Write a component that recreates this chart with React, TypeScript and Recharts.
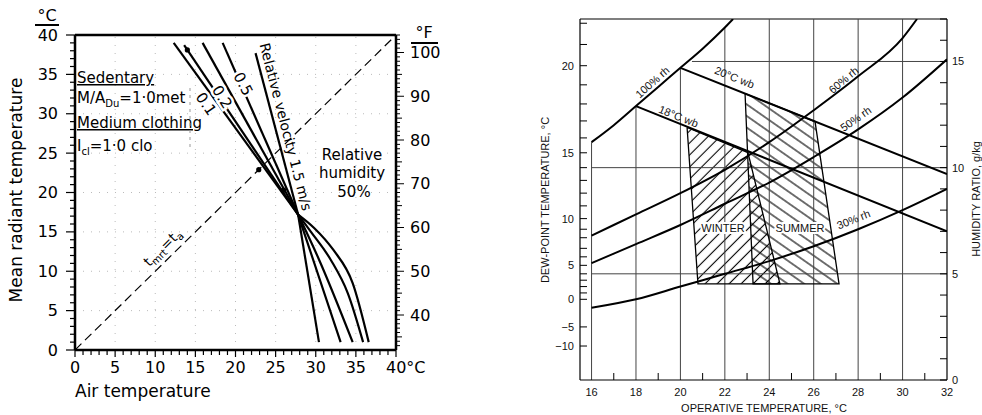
import React from 'react';
import { ComposedChart, Line, Area, XAxis, YAxis, ReferenceLine, ReferenceDot } from 'recharts';

const range = (a: number, b: number) => Array.from({ length: b - a + 1 }, (_, i) => a + i);

// ---------- left chart: air temperature vs mean radiant temperature (°C) ----------
const cTicks = range(0, 40);
const fTicks = range(33, 104);
const gridC = [5, 10, 15, 20, 25, 30, 35];

// relative velocity lines (ta = air temp, tr = mean radiant temp)
// upper parts are straight, lower parts fan out below the crossing point
const velUpper = [
  [{ ta: 12.3, tr: 39.0 }, { ta: 27.8, tr: 17.2 }],
  [{ ta: 13.6, tr: 38.7 }, { ta: 27.8, tr: 17.2 }],
  [{ ta: 15.9, tr: 39.0 }, { ta: 27.8, tr: 17.2 }],
  [{ ta: 18.4, tr: 39.0 }, { ta: 27.8, tr: 17.2 }],
  [{ ta: 22.5, tr: 37.7 }, { ta: 27.8, tr: 17.2 }],
];
const velLower = [
  [{ ta: 27.8, tr: 17.2 }, { ta: 29.8, tr: 15.5 }, { ta: 32.2, tr: 12.7 }, { ta: 34.6, tr: 8.5 }, { ta: 36.6, tr: 1.0 }],
  [{ ta: 27.8, tr: 17.2 }, { ta: 29.4, tr: 15.0 }, { ta: 31.9, tr: 11.4 }, { ta: 34.0, tr: 7.2 }, { ta: 35.9, tr: 1.0 }],
  [{ ta: 27.8, tr: 17.2 }, { ta: 30.4, tr: 11.5 }, { ta: 34.6, tr: 1.0 }],
  [{ ta: 27.8, tr: 17.2 }, { ta: 33.1, tr: 1.0 }],
  [{ ta: 27.8, tr: 17.2 }, { ta: 30.4, tr: 1.0 }],
];
const equalLine = [{ ta: 0, tr: 0 }, { ta: 40, tr: 40 }];
const markers = [{ ta: 14.0, tr: 38.1 }, { ta: 22.9, tr: 22.9 }, { ta: 26.0, tr: 20.3 }];

// ---------- right chart: operative temp vs humidity ratio ----------
const tTicks = range(16, 32);
const wTicks = range(0, 17);
const dpValues = [-10, -5, 0, 1, 2, 3, 4, 5, 6, 7, 8, 9, 10, 11, 12, 13, 14, 15, 16, 17, 18, 19, 20, 21, 22];
const dpW = [1.6, 2.5, 3.8, 4.1, 4.4, 4.7, 5.0, 5.4, 5.8, 6.2, 6.7, 7.1, 7.6, 8.2, 8.8, 9.4, 10.0, 10.7, 11.4, 12.2, 13.0, 13.9, 14.8, 15.8, 16.8];
const dpMajor = [-10, -5, 0, 5, 10, 15, 20];

const rh100 = [
  { t: 16, w: 11.2 }, { t: 17, w: 12.0 }, { t: 18, w: 12.9 }, { t: 19, w: 13.8 },
  { t: 20, w: 14.7 }, { t: 21, w: 15.6 }, { t: 22, w: 16.6 }, { t: 22.37, w: 17.0 },
];
const rh60 = [
  { t: 16, w: 6.8 }, { t: 18, w: 7.8 }, { t: 20, w: 8.8 }, { t: 22, w: 9.9 }, { t: 24, w: 11.2 },
  { t: 26, w: 12.7 }, { t: 28, w: 14.3 }, { t: 30, w: 16.1 }, { t: 30.65, w: 17.0 },
];
const rh50 = [
  { t: 16, w: 5.5 }, { t: 18, w: 6.4 }, { t: 20, w: 7.3 }, { t: 22, w: 8.3 }, { t: 24, w: 9.3 },
  { t: 26, w: 10.5 }, { t: 28, w: 11.8 }, { t: 30, w: 13.3 }, { t: 32, w: 15.1 },
];
const rh30 = [
  { t: 16, w: 3.4 }, { t: 18, w: 3.8 }, { t: 20, w: 4.4 }, { t: 22, w: 5.0 }, { t: 24, w: 5.6 },
  { t: 26, w: 6.3 }, { t: 28, w: 7.1 }, { t: 30, w: 8.0 }, { t: 32, w: 9.0 },
];
const wb18 = [{ t: 18, w: 12.9 }, { t: 32, w: 7.0 }];
const wb20 = [{ t: 20, w: 14.7 }, { t: 32, w: 9.7 }];

// comfort zones: outline (polygon order) and fill band (low/high per x)
const winterEdge = [
  { t: 20.3, w: 11.89 }, { t: 23.04, w: 10.71 }, { t: 24.48, w: 4.53 }, { t: 20.79, w: 4.53 }, { t: 20.3, w: 11.89 },
];
const winterBand = [
  { t: 20.3, r: [11.89, 11.89] }, { t: 20.79, r: [4.53, 11.68] }, { t: 23.04, r: [4.53, 10.71] }, { t: 24.48, r: [4.53, 4.53] },
];
const summerEdge = [
  { t: 22.91, w: 13.49 }, { t: 26.06, w: 12.17 }, { t: 27.14, w: 4.53 }, { t: 23.27, w: 4.53 }, { t: 22.91, w: 13.49 },
];
const summerBand = [
  { t: 22.91, r: [13.49, 13.49] }, { t: 23.27, r: [4.53, 13.34] }, { t: 26.06, r: [4.53, 12.17] }, { t: 27.14, r: [4.53, 4.53] },
];

const gridV = [
  { t: 16, top: 11.2 }, { t: 18, top: 12.9 }, { t: 20, top: 14.7 }, { t: 22, top: 16.6 },
  { t: 24, top: 17 }, { t: 26, top: 17 }, { t: 28, top: 17 }, { t: 30, top: 17 },
];
const gridH = [{ w: 5, from: 16 }, { w: 10, from: 16 }, { w: 15, from: 20.52 }];

const L_FONT = '"DejaVu Sans", sans-serif';
const R_FONT = '"Liberation Sans", Arial, sans-serif';

const CBottomTick = ({ x, y, payload }: any) => {
  const v = payload.value;
  const major = v % 5 === 0;
  return (
    <g>
      <line x1={x} y1={y} x2={x} y2={y + (major ? 7 : 5)} stroke="#000" strokeWidth={1.2} />
      {major && (
        <text x={v === 40 ? x - 10 : x} y={y + 23} textAnchor={v === 40 ? 'start' : 'middle'} fontFamily={L_FONT} fontSize={16} fill="#000">
          {v === 40 ? '40°C' : v}
        </text>
      )}
    </g>
  );
};

const CLeftTick = ({ x, y, payload }: any) => {
  const v = payload.value;
  const major = v % 5 === 0;
  return (
    <g>
      <line x1={x} y1={y} x2={x - (major ? 9 : 5)} y2={y} stroke="#000" strokeWidth={1.2} />
      {major && (
        <text x={x - 17} y={y} textAnchor="end" dominantBaseline="central" fontFamily={L_FONT} fontSize={16} fill="#000">
          {v}
        </text>
      )}
    </g>
  );
};

const FTopTick = ({ x, y, payload }: any) => {
  const v = payload.value;
  const len = v % 10 === 0 ? 6 : v % 5 === 0 ? 4 : 3;
  return (
    <g>
      <line x1={x} y1={y} x2={x} y2={y - len} stroke="#000" strokeWidth={1} />
      {v % 10 === 0 && v >= 40 && (
        <text x={v === 100 ? x - 13 : x} y={y - 8} textAnchor={v === 100 ? 'start' : 'middle'} fontFamily={L_FONT} fontSize={16} fill="#000">
          {v === 100 ? '100°F' : v}
        </text>
      )}
    </g>
  );
};

const FRightTick = ({ x, y, payload }: any) => {
  const v = payload.value;
  const len = v % 10 === 0 ? 8 : v % 5 === 0 ? 6 : 4;
  return (
    <g>
      <line x1={x} y1={y} x2={x + len} y2={y} stroke="#000" strokeWidth={1} />
      {v % 10 === 0 && v >= 40 && (
        <text x={x + 14} y={y} dominantBaseline="central" fontFamily={L_FONT} fontSize={16} fill="#000">
          {v}
        </text>
      )}
    </g>
  );
};

const TBottomTick = ({ x, y, payload }: any) => {
  const v = payload.value;
  if (v % 2 === 1) return <line x1={x} y1={y} x2={x} y2={y - 7} stroke="#000" strokeWidth={1} />;
  return (
    <text x={x} y={y + 16} textAnchor="middle" fontFamily={R_FONT} fontSize={11} fill="#111">
      {v}
    </text>
  );
};

const WRightTick = ({ x, y, payload }: any) => {
  const v = payload.value;
  return (
    <g>
      <line x1={x} y1={y} x2={x - 7} y2={y} stroke="#000" strokeWidth={1} />
      {v % 5 === 0 && (
        <text x={x + 5} y={y} dominantBaseline="central" fontFamily={R_FONT} fontSize={11} fill="#111">
          {v}
        </text>
      )}
    </g>
  );
};

const DpLeftTick = ({ x, y, payload }: any) => {
  const i = dpW.indexOf(payload.value);
  const dp = dpValues[i];
  const major = dpMajor.includes(dp);
  return (
    <g>
      <line x1={x} y1={y} x2={x + 7} y2={y} stroke="#000" strokeWidth={1} />
      {major && (
        <text x={x - 6} y={y} textAnchor="end" dominantBaseline="central" fontFamily={R_FONT} fontSize={11} fill="#111">
          {dp < 0 ? `−${-dp}` : dp}
        </text>
      )}
    </g>
  );
};

// axes are 1px wide/high, the chart margins make up the rest of the space
const axisBase = { tickSize: 0, tickMargin: 0, tickLine: false, interval: 0 as const, allowDataOverflow: true };

const halo = { stroke: '#fff', strokeWidth: 5, paintOrder: 'stroke' as const };

export default function App() {
  return (
    <div style={{ position: 'absolute', left: 0, top: 0, width: 982, height: 415, background: '#fff' }}>
      <svg width={0} height={0} style={{ position: 'absolute' }}>
        <defs>
          <pattern id="hatchWinter" width={8.5} height={8.5} patternUnits="userSpaceOnUse" patternTransform="rotate(45)">
            <line x1={4.25} y1={0} x2={4.25} y2={8.5} stroke="#000" strokeWidth={1.1} />
          </pattern>
          <pattern id="hatchSummer" width={9.5} height={9.5} patternUnits="userSpaceOnUse" patternTransform="rotate(-55)">
            <line x1={4.75} y1={0} x2={4.75} y2={9.5} stroke="#000" strokeWidth={1.1} />
          </pattern>
        </defs>
      </svg>

      {/* left chart */}
      <div style={{ position: 'absolute', left: 0, top: 0 }}>
        <ComposedChart width={440} height={415} margin={{ top: 34, right: 43, bottom: 64, left: 74 }}>
          <XAxis xAxisId="c" dataKey="ta" type="number" domain={[0, 40]} ticks={cTicks} height={1}
            {...axisBase} axisLine={{ stroke: '#000', strokeWidth: 2.5 }} tick={(p: any) => <CBottomTick {...p} />} />
          <XAxis xAxisId="f" orientation="top" type="number" domain={[32, 104]} ticks={fTicks} height={1}
            {...axisBase} axisLine={{ stroke: '#000', strokeWidth: 2.5 }} tick={(p: any) => <FTopTick {...p} />} />
          <YAxis yAxisId="c" type="number" domain={[0, 40]} ticks={cTicks} width={1}
            {...axisBase} axisLine={{ stroke: '#000', strokeWidth: 2.5 }} tick={(p: any) => <CLeftTick {...p} />} />
          <YAxis yAxisId="f" orientation="right" type="number" domain={[32, 104]} ticks={fTicks} width={1}
            {...axisBase} axisLine={{ stroke: '#000', strokeWidth: 2.5 }} tick={(p: any) => <FRightTick {...p} />} />
          {gridC.map((g) => (
            <ReferenceLine key={`gx${g}`} x={g} xAxisId="c" yAxisId="c" stroke="#bbb" strokeDasharray="1 7" />
          ))}
          {gridC.map((g) => (
            <ReferenceLine key={`gy${g}`} y={g} xAxisId="c" yAxisId="c" stroke="#bbb" strokeDasharray="1 7" />
          ))}
          <Line data={equalLine} dataKey="tr" xAxisId="c" yAxisId="c" type="linear" stroke="#000" strokeWidth={1.2}
            strokeDasharray="9 5" dot={false} isAnimationActive={false} />
          {velUpper.map((d, i) => (
            <Line key={`u${i}`} data={d} dataKey="tr" xAxisId="c" yAxisId="c" type="linear" stroke="#000" strokeWidth={2.2}
              dot={false} isAnimationActive={false} />
          ))}
          {velLower.map((d, i) => (
            <Line key={`l${i}`} data={d} dataKey="tr" xAxisId="c" yAxisId="c" type="monotone" stroke="#000" strokeWidth={2.2}
              dot={false} isAnimationActive={false} />
          ))}
          {markers.map((m, i) => (
            <ReferenceDot key={i} x={m.ta} y={m.tr} xAxisId="c" yAxisId="c" r={2.6} fill="#000" stroke="none" />
          ))}
        </ComposedChart>
      </div>

      {/* right chart */}
      <div style={{ position: 'absolute', left: 490, top: 0 }}>
        <ComposedChart width={492} height={415} margin={{ top: 19, right: 34, bottom: 34, left: 89 }}>
          <XAxis dataKey="t" type="number" domain={[15.48, 32]} ticks={tTicks} height={1}
            {...axisBase} axisLine={{ stroke: '#000', strokeWidth: 1.2 }} tick={(p: any) => <TBottomTick {...p} />} />
          <YAxis yAxisId="dp" type="number" domain={[0, 17]} ticks={dpW} width={1}
            {...axisBase} axisLine={{ stroke: '#000', strokeWidth: 1.2 }} tick={(p: any) => <DpLeftTick {...p} />} />
          <YAxis yAxisId="w" orientation="right" type="number" domain={[0, 17]} ticks={wTicks} width={1}
            {...axisBase} axisLine={{ stroke: '#000', strokeWidth: 1.2 }} tick={(p: any) => <WRightTick {...p} />} />
          <ReferenceLine y={17} yAxisId="w" stroke="#000" strokeWidth={1.2} />
          {gridV.map((g) => (
            <ReferenceLine key={`v${g.t}`} yAxisId="w" stroke="#444" strokeWidth={1}
              segment={[{ x: g.t, y: 0 }, { x: g.t, y: g.top }]} />
          ))}
          {gridH.map((g) => (
            <ReferenceLine key={`h${g.w}`} yAxisId="w" stroke="#444" strokeWidth={1}
              segment={[{ x: g.from, y: g.w }, { x: 32, y: g.w }]} />
          ))}
          <Area data={winterBand} dataKey="r" yAxisId="w" type="linear" stroke="none" fill="url(#hatchWinter)" fillOpacity={1} isAnimationActive={false} />
          <Area data={summerBand} dataKey="r" yAxisId="w" type="linear" stroke="none" fill="url(#hatchSummer)" fillOpacity={1} isAnimationActive={false} />
          <Line data={winterEdge} dataKey="w" yAxisId="w" type="linear" stroke="#000" strokeWidth={1.3} dot={false} isAnimationActive={false} />
          <Line data={summerEdge} dataKey="w" yAxisId="w" type="linear" stroke="#000" strokeWidth={1.3} dot={false} isAnimationActive={false} />
          {[rh100, rh60, rh50, rh30].map((d, i) => (
            <Line key={`rh${i}`} data={d} dataKey="w" yAxisId="w" type="monotone" stroke="#000" strokeWidth={2}
              dot={false} isAnimationActive={false} />
          ))}
          {[wb18, wb20].map((d, i) => (
            <Line key={`wb${i}`} data={d} dataKey="w" yAxisId="w" type="linear" stroke="#000" strokeWidth={2}
              dot={false} isAnimationActive={false} />
          ))}
        </ComposedChart>
      </div>

      {/* annotations */}
      <svg width={982} height={415} style={{ position: 'absolute', left: 0, top: 0, pointerEvents: 'none' }}>
        <g fontFamily={L_FONT} fill="#000">
          <text x={47} y={21} textAnchor="middle" fontSize={16}>°C</text>
          <line x1={35} y1={25} x2={59} y2={25} stroke="#000" strokeWidth={2} />
          <text x={424} y={38} textAnchor="middle" fontSize={16}>°F</text>
          <line x1={411} y1={43} x2={438} y2={43} stroke="#000" strokeWidth={2} />
          <text transform="translate(22,190) rotate(-90)" textAnchor="middle" fontSize={17}>Mean radiant temperature</text>
          <text x={75} y={397} fontSize={17}>Air temperature</text>

          <text x={77} y={83} fontSize={15} textDecoration="underline">Sedentary</text>
          <text x={77} y={103} fontSize={15}>
            M/A<tspan fontSize={10} dy={4}>Du</tspan><tspan dy={-4}>=1·0met</tspan>
          </text>
          <text x={77} y={128} fontSize={15} textDecoration="underline">Medium clothing</text>
          <text x={77} y={151} fontSize={15}>
            I<tspan fontSize={10} dy={4}>cl</tspan><tspan dy={-4}>=1·0 clo</tspan>
          </text>
          <line x1={190} y1={88} x2={190} y2={150} stroke="#999" strokeWidth={1} strokeDasharray="3 4" />

          <text x={352} y={160} textAnchor="middle" fontSize={15}>Relative</text>
          <text x={352} y={178} textAnchor="middle" fontSize={15}>humidity</text>
          <text x={354} y={197} textAnchor="middle" fontSize={15}>50%</text>

          <text transform="translate(281,128) rotate(75.5)" textAnchor="middle" fontSize={14}>Relative velocity 1.5 m/s</text>
          <text transform="translate(243,84) rotate(62)" textAnchor="middle" dominantBaseline="central" fontSize={15} {...halo}>0.5</text>
          <text transform="translate(222,97) rotate(58)" textAnchor="middle" dominantBaseline="central" fontSize={15} {...halo}>0.2</text>
          <text transform="translate(206,104) rotate(55)" textAnchor="middle" dominantBaseline="central" fontSize={15} {...halo}>0.1</text>

          <text transform="translate(166,251) rotate(-44.5)" textAnchor="middle" fontSize={14}>
            t<tspan fontSize={10} dy={3}>mrt</tspan><tspan dy={-3}>=t</tspan><tspan fontSize={10} dy={3}>a</tspan>
          </text>
        </g>

        <g fontFamily={R_FONT} fill="#111" fontSize={11}>
          <text transform="translate(655,85) rotate(-42)" textAnchor="middle">100% rh</text>
          <text transform="translate(733,81) rotate(22)" textAnchor="middle">20°C wb</text>
          <text transform="translate(677,120) rotate(22)" textAnchor="middle">18°C wb</text>
          <text transform="translate(846,83) rotate(-40)" textAnchor="middle">60% rh</text>
          <text transform="translate(858,122) rotate(-35)" textAnchor="middle">50% rh</text>
          <text transform="translate(855,223) rotate(-22)" textAnchor="middle">30% rh</text>
          <text x={723} y={232} textAnchor="middle" stroke="#fff" strokeWidth={4} paintOrder="stroke">WINTER</text>
          <text x={800} y={232} textAnchor="middle" stroke="#fff" strokeWidth={4} paintOrder="stroke">SUMMER</text>
          <text transform="translate(549,200) rotate(-90)" textAnchor="middle">DEW-POINT TEMPERATURE, °C</text>
          <text transform="translate(980,199) rotate(-90)" textAnchor="middle">HUMIDITY RATIO, g/kg</text>
          <text x={764} y={412} textAnchor="middle">OPERATIVE TEMPERATURE, °C</text>
        </g>
      </svg>
    </div>
  );
}
